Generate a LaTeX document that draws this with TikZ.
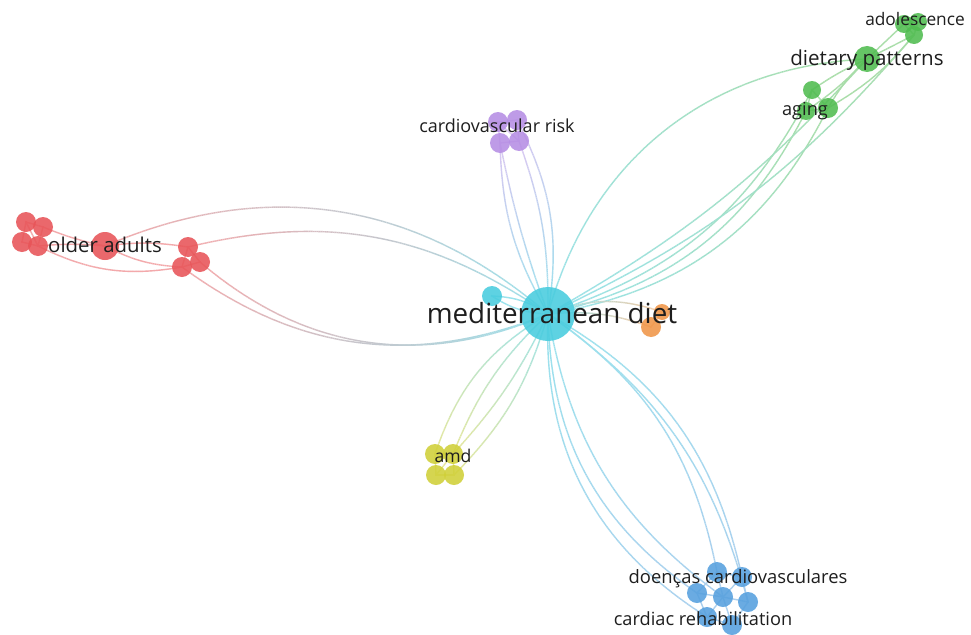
\documentclass[tikz,border=0pt]{standalone}
\usepackage{fontspec}
\setmainfont{Open Sans}
\usetikzlibrary{decorations.markings}

% cluster colours
\definecolor{cyanN}{RGB}{72,204,222}
\definecolor{redN}{RGB}{232,84,88}
\definecolor{greenN}{RGB}{80,188,80}
\definecolor{blueN}{RGB}{86,160,222}
\definecolor{yellowN}{RGB}{208,208,56}
\definecolor{purpleN}{RGB}{182,142,228}
\definecolor{orangeN}{RGB}{240,150,72}
\definecolor{labtext}{RGB}{30,30,30}
% lighter tones for the links
\colorlet{cyanE}{cyanN!55!white}
\colorlet{redE}{redN!50!white}
\colorlet{greenE}{greenN!50!white}
\colorlet{blueE}{blueN!50!white}
\colorlet{yellowE}{yellowN!50!white}
\colorlet{purpleE}{purpleN!50!white}
\colorlet{orangeE}{orangeN!50!white}

\pgfdeclarelayer{bg}
\pgfdeclarelayer{edges}
\pgfsetlayers{bg,edges,main}

% link with a colour gradient: from, to, path options, start colour, end colour
\newcommand\lnk[5]{%
  \path[decorate, decoration={markings,
      mark=between positions 0 and 1 step 2pt with {%
        \pgfmathsetmacro\gp{min(100,100*(\pgfkeysvalueof{/pgf/decoration/mark info/distance from start}/\pgfdecoratedpathlength))}%
        \draw[edgeline, color=#5!\gp!#4] (-1pt,0) -- (1pt,0);}}]
    (#1.center) to[#3] (#2.center);}

\begin{document}
\begin{tikzpicture}[x=1pt,y=-1pt,
  kw/.style={circle, inner sep=0pt, minimum size=#1, fill opacity=0.88},
  lab/.style={anchor=base, inner sep=0pt, text=labtext},
  edgeline/.style={line width=1.4pt, line cap=butt}]
\begin{pgfonlayer}{bg}
\fill[white] (0,0) rectangle (971,634);
\end{pgfonlayer}
\useasboundingbox (0,0) rectangle (971,634);

% ---- items ----
\node[kw=20, fill=cyanN] (cs) at (492,296) {};
\node[kw=54, fill=cyanN] (med) at (548,314) {};

\node[kw=20, fill=redN] (ra) at (26,222) {};
\node[kw=20, fill=redN] (rb) at (43,227) {};
\node[kw=20, fill=redN] (rc) at (22,242) {};
\node[kw=20, fill=redN] (rd) at (38,246) {};
\node[kw=28, fill=redN] (old) at (105,246) {};
\node[kw=20, fill=redN] (re) at (188,247) {};
\node[kw=20, fill=redN] (rf) at (200,262) {};
\node[kw=20, fill=redN] (rg) at (182,267) {};

\node[kw=26, fill=greenN] (dp) at (867,59) {};
\node[kw=18, fill=greenN] (ad1) at (904,24) {};
\node[kw=18, fill=greenN] (ad2) at (918,22) {};
\node[kw=18, fill=greenN] (ad3) at (914,35) {};
\node[kw=18, fill=greenN] (ga) at (812,90) {};
\node[kw=20, fill=greenN] (gb) at (828,108) {};
\node[kw=18, fill=greenN] (gc) at (806,111) {};

\node[kw=20, fill=purpleN] (pa) at (498,122) {};
\node[kw=20, fill=purpleN] (pb) at (517,120) {};
\node[kw=20, fill=purpleN] (pc) at (500,143) {};
\node[kw=20, fill=purpleN] (pd) at (519,141) {};

\node[kw=16, fill=orangeN] (ob) at (662,312) {};
\node[kw=20, fill=orangeN] (oa) at (651,327) {};

\node[kw=20, fill=yellowN] (ya) at (435,454) {};
\node[kw=20, fill=yellowN] (yb) at (453,454) {};
\node[kw=20, fill=yellowN] (yc) at (436,475) {};
\node[kw=20, fill=yellowN] (yd) at (454,475) {};

\node[kw=20, fill=blueN] (ba) at (717,572) {};
\node[kw=20, fill=blueN] (bb) at (742,577) {};
\node[kw=20, fill=blueN] (bc) at (697,593) {};
\node[kw=20, fill=blueN] (bd) at (723,597) {};
\node[kw=20, fill=blueN] (be) at (748,602) {};
\node[kw=20, fill=blueN] (bf) at (707,617) {};
\node[kw=20, fill=blueN] (bg) at (732,625) {};

% ---- labels ----
\node[lab, font=\fontsize{27.8}{30}\selectfont] (tmed) at (552,323) {mediterranean diet};
\node[lab, font=\fontsize{20.4}{24}\selectfont] (told) at (105,252) {older adults};
\node[lab, font=\fontsize{20.6}{24}\selectfont] (tdp) at (867,66) {dietary patterns};
\node[lab, font=\fontsize{17.3}{20}\selectfont] (tad) at (915,26) {adolescence};
\node[lab, font=\fontsize{18.2}{20}\selectfont] (tag) at (805,115) {aging};
\node[lab, font=\fontsize{18}{20}\selectfont] (tcr) at (497,132) {cardiovascular risk};
\node[lab, font=\fontsize{17.6}{20}\selectfont] (tamd) at (453,462) {amd};
\node[lab, font=\fontsize{18.4}{20}\selectfont] (tdc) at (738,583) {doenças cardiovasculares};
\node[lab, font=\fontsize{18.2}{20}\selectfont] (tcrh) at (703,625) {cardiac rehabilitation};

% ---- links ----
\begin{pgfonlayer}{edges}
% red cluster to the centre
\lnk{old}{med}{bend left=32}{redE}{cyanE}
\lnk{re}{med}{bend left=24}{redE}{cyanE}
\lnk{rg}{med}{bend right=29}{redE}{cyanE}
\lnk{rf}{med}{bend right=32}{redE}{cyanE}
% purple
\lnk{pc}{med}{bend right=14}{purpleE}{cyanE}
\lnk{pc}{med}{bend right=4}{purpleE}{cyanE}
\lnk{pd}{med}{bend left=10}{purpleE}{cyanE}
\lnk{pb}{med}{bend left=18}{purpleE}{cyanE}
% green
\lnk{med}{dp}{bend left=36}{cyanE}{greenE}
\lnk{med}{gc}{bend right=25}{cyanE}{greenE}
\lnk{med}{ga}{bend right=22}{cyanE}{greenE}
\lnk{med}{gb}{bend right=27}{cyanE}{greenE}
\lnk{med}{ad3}{bend right=12}{cyanE}{greenE}
\lnk{med}{dp}{bend right=9}{cyanE}{greenE}
% orange
\lnk{med}{ob}{bend left=20}{cyanE}{orangeE}
\lnk{med}{oa}{bend left=12}{cyanE}{orangeE}
% yellow
\lnk{ya}{med}{bend left=20}{yellowE}{cyanE}
\lnk{yb}{med}{bend left=12}{yellowE}{cyanE}
\lnk{yb}{med}{bend right=8}{yellowE}{cyanE}
\lnk{yd}{med}{bend right=14}{yellowE}{cyanE}
% blue
\lnk{med}{bf}{bend right=30}{cyanE}{blueE}
\lnk{med}{bc}{bend right=27}{cyanE}{blueE}
\lnk{med}{bd}{bend right=22}{cyanE}{blueE}
\lnk{med}{ba}{bend left=22}{cyanE}{blueE}
\lnk{med}{bb}{bend left=24}{cyanE}{blueE}
\lnk{med}{be}{bend left=20}{cyanE}{blueE}
% cyan
\lnk{cs}{med}{bend left=15}{cyanE}{cyanE}
\lnk{cs}{med}{bend right=15}{cyanE}{cyanE}
% inside the red cluster
\lnk{ra}{rb}{bend left=0}{redE}{redE}
\lnk{ra}{rc}{bend left=0}{redE}{redE}
\lnk{rb}{rd}{bend left=0}{redE}{redE}
\lnk{rc}{rd}{bend left=0}{redE}{redE}
\lnk{ra}{rd}{bend left=0}{redE}{redE}
\lnk{rb}{old}{bend right=5}{redE}{redE}
\lnk{rd}{old}{bend left=5}{redE}{redE}
\lnk{old}{re}{bend left=8}{redE}{redE}
\lnk{old}{rg}{bend right=12}{redE}{redE}
\lnk{rd}{rg}{bend right=18}{redE}{redE}
\lnk{re}{rf}{bend left=0}{redE}{redE}
\lnk{rf}{rg}{bend left=0}{redE}{redE}
\lnk{re}{rg}{bend left=0}{redE}{redE}
% inside the green cluster
\lnk{ga}{gb}{bend left=0}{greenE}{greenE}
\lnk{ga}{gc}{bend left=0}{greenE}{greenE}
\lnk{gb}{gc}{bend left=0}{greenE}{greenE}
\lnk{ga}{dp}{bend left=5}{greenE}{greenE}
\lnk{gb}{dp}{bend left=8}{greenE}{greenE}
\lnk{gc}{dp}{bend right=6}{greenE}{greenE}
\lnk{dp}{ad1}{bend left=0}{greenE}{greenE}
\lnk{dp}{ad3}{bend left=0}{greenE}{greenE}
\lnk{ad1}{ad2}{bend left=0}{greenE}{greenE}
\lnk{ad2}{ad3}{bend left=0}{greenE}{greenE}
\lnk{ad1}{ad3}{bend left=0}{greenE}{greenE}
\lnk{gb}{ad3}{bend right=10}{greenE}{greenE}
% inside the purple cluster
\lnk{pa}{pb}{bend left=0}{purpleE}{purpleE}
\lnk{pa}{pc}{bend left=0}{purpleE}{purpleE}
\lnk{pb}{pd}{bend left=0}{purpleE}{purpleE}
\lnk{pc}{pd}{bend left=0}{purpleE}{purpleE}
\lnk{pa}{pd}{bend left=0}{purpleE}{purpleE}
% inside the yellow cluster
\lnk{ya}{yb}{bend left=0}{yellowE}{yellowE}
\lnk{ya}{yc}{bend left=0}{yellowE}{yellowE}
\lnk{yb}{yd}{bend left=0}{yellowE}{yellowE}
\lnk{yc}{yd}{bend left=0}{yellowE}{yellowE}
\lnk{yb}{yc}{bend left=0}{yellowE}{yellowE}
% inside the orange pair
\lnk{oa}{ob}{bend left=0}{orangeE}{orangeE}
% inside the blue cluster
\lnk{ba}{bb}{bend left=0}{blueE}{blueE}
\lnk{ba}{bc}{bend left=0}{blueE}{blueE}
\lnk{ba}{bd}{bend left=0}{blueE}{blueE}
\lnk{bb}{bd}{bend left=0}{blueE}{blueE}
\lnk{bb}{be}{bend left=0}{blueE}{blueE}
\lnk{bc}{bd}{bend left=0}{blueE}{blueE}
\lnk{bc}{bf}{bend left=0}{blueE}{blueE}
\lnk{bd}{be}{bend left=0}{blueE}{blueE}
\lnk{bd}{bf}{bend left=0}{blueE}{blueE}
\lnk{bd}{bg}{bend left=0}{blueE}{blueE}
\lnk{be}{bg}{bend left=0}{blueE}{blueE}
\lnk{bf}{bg}{bend left=0}{blueE}{blueE}
\end{pgfonlayer}
\end{tikzpicture}
\end{document}
